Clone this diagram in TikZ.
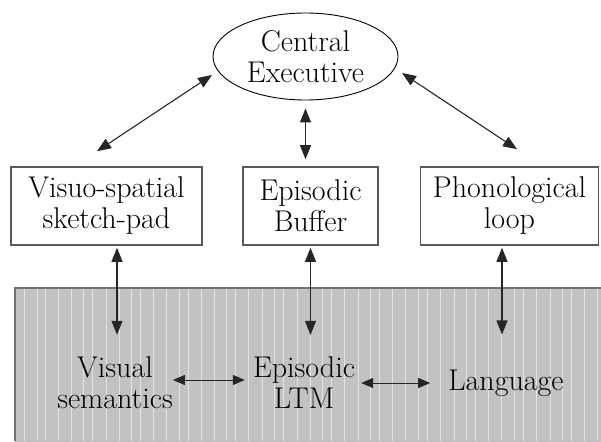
\documentclass[tikz,border=0pt]{standalone}
\usepackage{fontspec}
\setmainfont{Latin Modern Roman}
\usetikzlibrary{shapes.geometric,arrows.meta}

\tikzset{
    big/.style={font=\fontsize{30}{31}\selectfont, align=center},
    store/.style={big, draw=black!65, line width=1.6pt, minimum height=78pt, inner sep=0pt},
    link/.style={{Triangle[length=14pt,width=11pt]}-{Triangle[length=14pt,width=11pt]}, line width=1.1pt, black!85},
    sublink/.style={{Triangle[length=12pt,width=10pt]}-{Triangle[length=12pt,width=10pt]}, line width=1pt, black!85},
}

\begin{document}
\begin{tikzpicture}[x=1pt,y=-1pt]
    \useasboundingbox (0,0) rectangle (601,441);
    % Long term store
    \fill[black!24] (15,288) rectangle (610,450);
    \foreach \x in {24,37,45,58,71,83,92,106,119,131,140,153,166,179,188,201,214,226,235,248,262,274,283,297,310,322,331,344,358,370,379,392,405,418,427,440,454,466,475,488,501,514,523,536,550,562,571,584,597}
        \draw[white, opacity=.55, line width=.8pt] (\x,289) -- (\x,441);
    \draw[black!55, line width=1.2pt] (15,441) -- (15,288) -- (601,288);
    % Executive
    \node[big, ellipse, draw, line width=.9pt, minimum width=185pt, minimum height=87pt, inner sep=0pt]
        (ce) at (305.5,56.5) {Central\\Executive};
    % Slave systems
    \node[store, minimum width=191pt] (vsp) at (106.5,206) {Visuo-spatial\\sketch-pad};
    \node[store, minimum width=135pt] (eb) at (310.5,206) {Episodic\\Buffer};
    \node[store, minimum width=178pt] (pl) at (509.5,206) {Phonological\\loop};
    % LTM contents
    \node[big, inner sep=0pt] (vs) at (115,383) {Visual\\semantics};
    \node[big, inner sep=0pt] (ltm) at (304,383) {Episodic\\LTM};
    \node[big, inner sep=0pt] (lang) at (506,383) {Language};
    % Executive links
    \draw[link] ([shift={(-9.5pt,15pt)}]vsp.north) -- ([shift={(-93.5pt,-18.5pt)}]ce.center);
    \draw[link] ([yshift=-8pt]ce.south) -- ([yshift=7pt]ce.south |- eb.north);
    \draw[link] ([shift={(7.5pt,17pt)}]pl.north) -- ([shift={(96.5pt,-16.5pt)}]ce.center);
    % Store links
    \draw[link] ([xshift=2pt,yshift=-2pt]vsp.south -| vs.north) -- ([xshift=2pt,yshift=22pt]vs.north);
    \draw[link] ([yshift=-2pt]eb.south) -- ([yshift=22pt]eb.south |- ltm.north);
    \draw[link] ([xshift=-4pt,yshift=-2pt]pl.south -| lang.north) -- ([xshift=-4pt,yshift=35pt]lang.north);
    \draw[sublink, shorten >=8pt] ([yshift=3pt]vs.east) -- ([yshift=3pt]vs.east -| ltm.west);
    \draw[sublink, shorten <=6pt, shorten >=18pt] (ltm.east |- lang.west) -- (lang.west);
\end{tikzpicture}
\end{document}
